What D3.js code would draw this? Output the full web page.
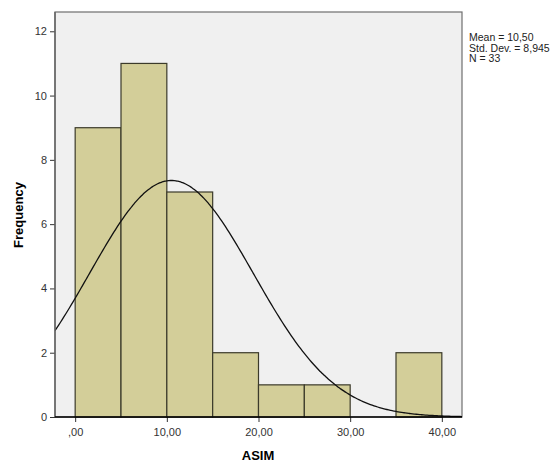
<!DOCTYPE html>
<html><head><meta charset="utf-8">
<script src="https://cdn.jsdelivr.net/npm/d3@7"></script>
<style>body{margin:0;background:#fff}svg{display:block}</style>
</head><body>
<svg id="c" width="559" height="466"></svg>
<script>
const binStarts = [0, 5, 10, 15, 20, 25, 30, 35];
const binWidth = 5;
const counts = [9, 11, 7, 2, 1, 1, 0, 2];
const xTicks = [0, 10, 20, 30, 40];
const xTickLabels = [",00", "10,00", "20,00", "30,00", "40,00"];
const yTicks = [0, 2, 4, 6, 8, 10, 12];
const meanVal = 10.50, sdVal = 8.945, nVal = 33;
const statLines = ["Mean = 10,50", "Std. Dev. = 8,945", "N = 33"];

const svg = d3.select("#c");
const L = 55, T = 12, R = 462, B = 417;
const x = d3.scaleLinear().domain([-2.2, 42.2]).range([L, R]);
const y = d3.scaleLinear().domain([0, 12.6]).range([B, T]);

svg.append("rect").attr("x", L).attr("y", T).attr("width", R - L).attr("height", B - T)
  .attr("fill", "#f0f0f0").attr("stroke", "#6e6e6e").attr("stroke-width", 1.2);

svg.append("g").selectAll("rect").data(binStarts.map((s, i) => ({s, c: counts[i]})).filter(d => d.c > 0))
  .join("rect")
  .attr("x", d => x(d.s)).attr("y", d => y(d.c))
  .attr("width", d => x(d.s + binWidth) - x(d.s)).attr("height", d => y(0) - y(d.c))
  .attr("fill", "#d3ce99").attr("stroke", "#3b3a2a").attr("stroke-width", 1.2);

// normal curve from displayed stats
svg.append("clipPath").attr("id", "clip").append("rect").attr("x", L).attr("y", T).attr("width", R - L).attr("height", B - T);
const pdf = v => nVal * binWidth * Math.exp(-0.5 * ((v - meanVal) / sdVal) ** 2) / (sdVal * Math.sqrt(2 * Math.PI));
const xs = d3.range(-2.2, 42.21, 0.2);
svg.append("path").attr("clip-path", "url(#clip)")
  .attr("d", d3.line().x(v => x(v)).y(v => y(pdf(v))).curve(d3.curveBasis)(xs))
  .attr("fill", "none").attr("stroke", "#111").attr("stroke-width", 1.3);

// axes
const yAx = svg.append("g").attr("transform", `translate(${L},0)`)
  .call(d3.axisLeft(y).tickValues(yTicks).tickSize(5).tickPadding(3).tickFormat(d3.format("d")));
yAx.select(".domain").remove();
yAx.selectAll("line").attr("stroke", "#333");
yAx.selectAll("text").attr("font-family", "Arial, 'Liberation Sans', sans-serif").attr("font-size", 11).attr("fill", "#333");
svg.append("line").attr("x1", L).attr("x2", L).attr("y1", T).attr("y2", B).attr("stroke", "#666").attr("stroke-width", 1.5);

const xAx = svg.append("g").attr("transform", `translate(0,${B})`)
  .call(d3.axisBottom(x).tickValues(xTicks).tickSize(5).tickPadding(6).tickFormat((d, i) => xTickLabels[i]));
xAx.select(".domain").remove();
xAx.selectAll("line").attr("stroke", "#333");
xAx.selectAll("text").attr("font-family", "Arial, 'Liberation Sans', sans-serif").attr("font-size", 11).attr("fill", "#333");
svg.append("line").attr("x1", L).attr("x2", R).attr("y1", B).attr("y2", B).attr("stroke", "#000").attr("stroke-width", 1.5);

svg.append("text").attr("transform", "translate(23,215) rotate(-90)").attr("text-anchor", "middle")
  .attr("font-family", "Arial, 'Liberation Sans', sans-serif").attr("font-size", 13).attr("font-weight", "bold").text("Frequency");
svg.append("text").attr("x", 258).attr("y", 460).attr("text-anchor", "middle")
  .attr("font-family", "Arial, 'Liberation Sans', sans-serif").attr("font-size", 13).attr("font-weight", "bold").text("ASIM");

svg.append("g").selectAll("text").data(statLines).join("text")
  .attr("x", 469).attr("y", (d, i) => 41 + i * 10.5)
  .attr("font-family", "Arial, 'Liberation Sans', sans-serif").attr("font-size", 10.5).attr("fill", "#222").text(d => d);
</script>
</body></html>
